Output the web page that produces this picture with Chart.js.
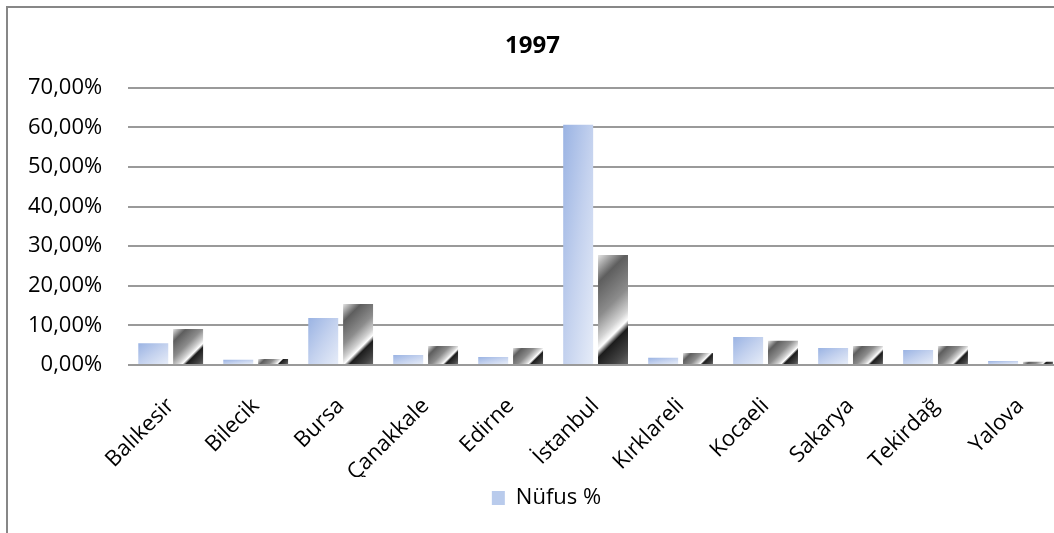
<!DOCTYPE html>
<html>
<head>
<meta charset="utf-8">
<script src="https://cdn.jsdelivr.net/npm/chart.js@4/dist/chart.umd.min.js"></script>
<style>
  html, body { margin: 0; padding: 0; background: #fff; overflow: hidden; width: 1054px; height: 533px; }
  #frame { position: absolute; left: 6px; top: 6px; width: 2000px; height: 2000px;
           border-left: 2px solid #878787; border-top: 2px solid #878787; }
  #wrap { position: absolute; left: 0; top: 0; width: 1082px; height: 533px; }
</style>
</head>
<body>
<div id="frame"></div>
<div id="wrap"><canvas id="c" width="1082" height="533"></canvas></div>
<script>
const chartTitle = '1997';
const categories = ['Balıkesir', 'Bilecik', 'Bursa', 'Çanakkale', 'Edirne', 'İstanbul', 'Kırklareli', 'Kocaeli', 'Sakarya', 'Tekirdağ', 'Yalova'];
const nufusLabel = 'Nüfus %';
const nufusValues = [5.5, 1.3, 11.9, 2.5, 2.0, 60.7, 1.8, 7.1, 4.3, 3.8, 1.0];
const series2Label = 'Seri 2';
const series2Values = [9.1, 1.5, 15.4, 4.8, 4.3, 27.8, 3.0, 6.1, 4.8, 4.8, 0.8];
const yTickValues = [0, 10, 20, 30, 40, 50, 60, 70];
const yTickLabels = ['0,00%', '10,00%', '20,00%', '30,00%', '40,00%', '50,00%', '60,00%', '70,00%'];

const FONT = '"Open Sans", "DejaVu Sans", sans-serif';

function geom(el) {
  if (!el || el.width == null || !isFinite(el.x) || !isFinite(el.y) || !isFinite(el.base)) return null;
  const l = el.x - el.width / 2, w = el.width;
  const top = Math.min(el.y, el.base), h = Math.abs(el.base - el.y);
  if (w <= 0 || h <= 0) return null;
  return { l, top, w, h };
}

function blueFill(ctx) {
  const g = geom(ctx.element);
  if (!g) return '#b7c9eb';
  const d = 2 * g.w * g.h / (g.h * g.h + g.w * g.w);
  const gr = ctx.chart.ctx.createLinearGradient(g.l, g.top, g.l + g.h * d, g.top + g.w * d);
  gr.addColorStop(0, '#9ab3e3');
  gr.addColorStop(0.5, '#c3d1ee');
  gr.addColorStop(1, '#e6ecf8');
  return gr;
}

function metalFill(ctx) {
  const g = geom(ctx.element);
  if (!g) return '#777';
  const s = (g.w + g.h) / 2;
  const gr = ctx.chart.ctx.createLinearGradient(g.l, g.top, g.l + s, g.top + s);
  gr.addColorStop(0, '#e4e4e4');
  gr.addColorStop(0.2, '#5e5e5e');
  gr.addColorStop(0.45, '#8c8c8c');
  gr.addColorStop(0.61, '#d2d2d2');
  gr.addColorStop(0.68, '#ffffff');
  gr.addColorStop(0.74, '#1c1c1c');
  gr.addColorStop(0.9, '#444444');
  gr.addColorStop(1, '#6a6a6a');
  return gr;
}

const legendShift = {
  id: 'legendShift',
  afterLayout(ch) { if (ch.legend) { ch.legend.left += 14; ch.legend.right += 14; } }
};

const chart = new Chart(document.getElementById('c'), {
  type: 'bar',
  data: {
    labels: categories,
    datasets: [
      { label: nufusLabel, data: nufusValues, backgroundColor: blueFill, borderWidth: 0 },
      { label: series2Label, data: series2Values, backgroundColor: metalFill, borderWidth: 0 }
    ]
  },
  plugins: [legendShift],
  options: {
    responsive: false,
    animation: false,
    devicePixelRatio: 1,
    layout: { padding: { left: 2, right: 19, top: 8, bottom: 14 } },
    datasets: { bar: { categoryPercentage: 0.82, barPercentage: 0.86 } },
    plugins: {
      title: {
        display: true, text: chartTitle, color: '#000',
        font: { family: FONT, size: 24, weight: 'bold' },
        padding: { top: 24, bottom: 27 }
      },
      legend: {
        position: 'bottom',
        labels: {
          color: '#000', font: { family: FONT, size: 22 },
          boxWidth: 13, boxHeight: 14, padding: 10,
          generateLabels: (ch) => [{
            text: nufusLabel, fillStyle: '#b9cbec', strokeStyle: '#b9cbec',
            lineWidth: 0, hidden: false, datasetIndex: 0, fontColor: '#000'
          }]
        }
      },
      tooltip: { enabled: false }
    },
    scales: {
      x: {
        grid: { display: false, drawTicks: false },
        border: { display: false },
        ticks: {
          color: '#000', font: { family: FONT, size: 22 },
          minRotation: 45, maxRotation: 45, autoSkip: false, padding: 28
        },
        afterFit: (s) => { s.height = 112; }
      },
      y: {
        min: 0, max: 70,
        afterBuildTicks: (s) => { s.ticks = yTickValues.map(v => ({ value: v })); },
        grid: { color: '#9a9a9a', lineWidth: 2, drawTicks: false },
        border: { display: false },
        ticks: {
          color: '#000', font: { family: FONT, size: 22 }, padding: 26,
          callback: (v) => { const i = yTickValues.indexOf(v); return i >= 0 ? yTickLabels[i] : ''; }
        }
      }
    }
  }
});
chart.update();
</script>
</body>
</html>
